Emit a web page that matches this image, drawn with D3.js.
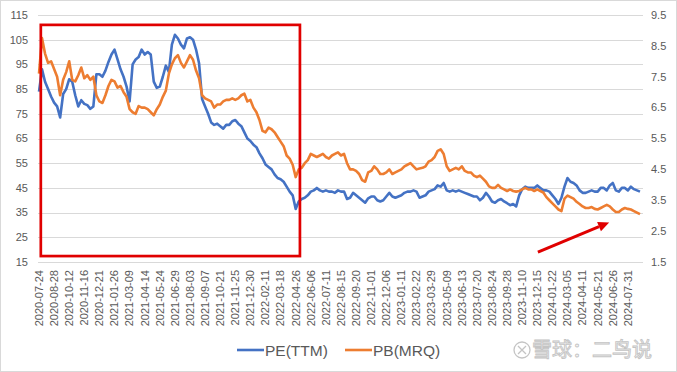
<!DOCTYPE html>
<html>
<head>
<meta charset="utf-8">
<style>
  body { margin: 0; background: #fff; }
  svg text { font-family: "Liberation Sans", Arial, sans-serif; }
</style>
</head>
<body>
<div id="graphic"></div>
<script src="https://d3js.org/d3.v7.min.js" charset="utf-8"></script>
<script>
// date labels shown on the x axis, one every 25 trading days
var dateLabels = ["2020-07-24","2020-08-28","2020-10-12","2020-11-16","2020-12-21","2021-01-26","2021-03-09","2021-04-14",
  "2021-05-24","2021-06-29","2021-08-03","2021-09-07","2021-10-21","2021-11-25","2021-12-30","2022-02-11","2022-03-18",
  "2022-04-26","2022-06-06","2022-07-11","2022-08-15","2022-09-20","2022-11-01","2022-12-06","2023-01-11","2023-02-22",
  "2023-03-29","2023-05-09","2023-06-13","2023-07-20","2023-08-24","2023-09-28","2023-11-10","2023-12-15","2024-01-22",
  "2024-03-05","2024-04-11","2024-05-21","2024-06-26","2024-07-31"];
var labelStep = 25;   // trading days between labels
var dataStep = 5;     // trading days between the points below
var totalDays = 1000;

// PE(TTM), left axis, one value every 5 trading days
var pe = [84,93,88,85,82,79.5,78,73.5,83,85, 89,88,82.5,78,80.5,79,78.5,77,78,91,
  91,90,92.5,96,99,101,97,93,90,86, 80,95,97,98,101,99,100,99,88,85.5,
  86,90,94.5,92,103,107,105.5,103,101.5,105.5, 106,105,101,95.5,81,78,75,71.5,70.5,71,
  70,69,70.5,70.5,72,72.5,71,70,67.5,65, 64,62.5,61.5,59,57,54.5,53.5,52.5,50.5,49,
  48.5,47.5,45.5,43.5,42,36.5,39.5,40.5,41,42, 43.5,44,45,44,43.5,44,43.5,43.5,43,44,
  43.5,43.5,40.5,41,43,42,41,40,39,40.8, 41.5,41.5,40,39.5,40,41.5,43,41.5,41,41.5,
  42,43,43.5,43.5,44,43.5,41,41.5,42,43.5, 44,44.5,46,45.5,47,44,43.5,44,43.5,44,
  43.5,43,42.5,42,41.5,41.5,40,41,43,41.5, 39.5,39,40,40.5,39.5,38.8,38,38.5,37.5,42,
  44.5,45.5,45,45,45,46,45,44,44,43.5, 42,40.5,38.5,41,45.5,49,47.5,47,46,44,
  43,43,43.5,44,43.5,43.5,45,45,44,46, 47,44,43.5,45,45,44,45.5,44.5,44,43.5];

// PB(MRQ), right axis
var pb = [7.6,8.75,8.25,7.95,8.0,7.75,7.5,6.9,7.4,7.65, 8.0,7.4,7.35,7.55,7.8,7.45,7.55,7.4,7.5,6.9,
  6.7,6.65,6.9,7.2,7.4,7.35,7.15,7.2,7.0,6.85, 6.45,6.35,6.3,6.55,6.5,6.5,6.45,6.35,6.25,6.45,
  6.6,6.85,7.05,7.6,7.9,8.1,8.2,7.95,7.8,8.0, 8.2,8.05,7.7,7.45,6.9,6.8,6.75,6.7,6.5,6.6,
  6.6,6.7,6.75,6.75,6.8,6.75,6.8,6.9,6.95,6.7, 6.75,6.5,6.35,6.1,5.75,5.7,5.85,5.8,5.7,5.55,
  5.4,5.25,4.95,4.85,4.65,4.25,4.5,4.55,4.7,4.8, 5.0,4.95,4.9,4.95,5.0,4.9,4.85,4.95,5.0,5.05,
  4.95,5.0,4.7,4.5,4.5,4.45,4.35,4.15,4.1,4.4, 4.45,4.6,4.5,4.35,4.35,4.4,4.5,4.35,4.4,4.45,
  4.5,4.6,4.65,4.7,4.6,4.5,4.53,4.55,4.6,4.75, 4.8,4.9,5.1,5.15,5.0,4.6,4.45,4.5,4.55,4.5,
  4.6,4.45,4.4,4.4,4.3,4.25,4.3,4.2,4.1,3.95, 3.9,3.9,4.0,3.9,3.85,3.8,3.85,3.8,3.78,3.8,
  3.85,3.9,3.85,3.85,3.8,3.85,3.8,3.75,3.6,3.5, 3.4,3.3,3.2,3.15,3.55,3.65,3.6,3.55,3.45,3.38,
  3.3,3.25,3.25,3.28,3.22,3.2,3.25,3.3,3.35,3.3, 3.2,3.12,3.12,3.2,3.25,3.22,3.2,3.15,3.1,3.05];

var leftTicks = [15,25,35,45,55,65,75,85,95,105,115];
var rightTicks = [1.5,2.5,3.5,4.5,5.5,6.5,7.5,8.5,9.5];
var seriesNames = ["PE(TTM)", "PB(MRQ)"];
var colors = ["#4472c4", "#ed7d31"];

// annotations: red box over the first period (trading days, PE units) and red arrow
var boxDays = [3, 432], boxPE = [17.4, 111];
var arrowFrom = [826, 19], arrowTo = [944, 31];

var W = 677, H = 372;
var margin = { top: 15, right: 34, bottom: 110, left: 39 };

var svg = d3.select("#graphic").append("svg")
    .attr("width", W)
    .attr("height", H);

svg.append("rect")
    .attr("x", 0.5).attr("y", 0.5)
    .attr("width", W - 1).attr("height", H - 1)
    .attr("fill", "#fff")
    .attr("stroke", "#d9d9d9");

var x = d3.scaleLinear().domain([0, totalDays]).range([margin.left, W - margin.right]);
var yL = d3.scaleLinear().domain([15, 115]).range([H - margin.bottom, margin.top]);
var yR = d3.scaleLinear().domain([1.5, 9.5]).range([H - margin.bottom, margin.top]);

// gridlines from the left axis
svg.append("g").selectAll("line")
    .data(leftTicks)
    .enter().append("line")
    .attr("x1", margin.left - 1)
    .attr("x2", W - margin.right)
    .attr("y1", function (d) { return Math.round(yL(d)) + 0.5; })
    .attr("y2", function (d) { return Math.round(yL(d)) + 0.5; })
    .attr("stroke", "#d9d9d9")
    .attr("stroke-width", 1);

// left axis labels
svg.append("g").selectAll("text")
    .data(leftTicks)
    .enter().append("text")
    .attr("x", 28)
    .attr("y", function (d) { return yL(d); })
    .attr("dy", "0.35em")
    .attr("text-anchor", "end")
    .style("font-size", "11px")
    .attr("fill", "#595959")
    .text(function (d) { return d; });

// right axis labels
svg.append("g").selectAll("text")
    .data(rightTicks)
    .enter().append("text")
    .attr("x", 651)
    .attr("y", function (d) { return yR(d); })
    .attr("dy", "0.35em")
    .style("font-size", "11px")
    .attr("fill", "#595959")
    .text(function (d) { return d.toFixed(1); });

// rotated date labels
svg.append("g").selectAll("text")
    .data(dateLabels)
    .enter().append("text")
    .attr("transform", function (d, i) {
        return "translate(" + x(i * labelStep) + "," + (H - margin.bottom + 8) + ") rotate(-90)";
    })
    .attr("dy", "0.35em")
    .attr("text-anchor", "end")
    .style("font-size", "11px")
    .attr("fill", "#595959")
    .text(function (d) { return d; });

// the two lines
var linePE = d3.line()
    .x(function (d, i) { return x(i * dataStep); })
    .y(function (d) { return yL(d); });
var linePB = d3.line()
    .x(function (d, i) { return x(i * dataStep); })
    .y(function (d) { return yR(d); });

svg.append("path")
    .datum(pe)
    .attr("d", linePE)
    .attr("fill", "none")
    .attr("stroke", colors[0])
    .attr("stroke-width", 2.6)
    .attr("stroke-linejoin", "round");

svg.append("path")
    .datum(pb)
    .attr("d", linePB)
    .attr("fill", "none")
    .attr("stroke", colors[1])
    .attr("stroke-width", 2.6)
    .attr("stroke-linejoin", "round");

// red box
svg.append("rect")
    .attr("x", x(boxDays[0]))
    .attr("y", yL(boxPE[1]))
    .attr("width", x(boxDays[1]) - x(boxDays[0]))
    .attr("height", yL(boxPE[0]) - yL(boxPE[1]))
    .attr("fill", "none")
    .attr("stroke", "#e00000")
    .attr("stroke-width", 2.7);

// red arrow
var ax1 = x(arrowFrom[0]), ay1 = yL(arrowFrom[1]);
var ax2 = x(arrowTo[0]), ay2 = yL(arrowTo[1]);
var ang = Math.atan2(ay2 - ay1, ax2 - ax1);
var headLen = 11, headW = 5;
var bx = ax2 - headLen * Math.cos(ang), by = ay2 - headLen * Math.sin(ang);
svg.append("line")
    .attr("x1", ax1).attr("y1", ay1)
    .attr("x2", bx).attr("y2", by)
    .attr("stroke", "#e00000")
    .attr("stroke-width", 3);
svg.append("path")
    .attr("d", "M" + ax2 + "," + ay2 +
        "L" + (bx + headW * Math.sin(ang)) + "," + (by - headW * Math.cos(ang)) +
        "L" + (bx - headW * Math.sin(ang)) + "," + (by + headW * Math.cos(ang)) + "Z")
    .attr("fill", "#e00000");

// legend
var legend = svg.append("g").selectAll("g")
    .data(seriesNames)
    .enter().append("g")
    .attr("transform", function (d, i) { return "translate(" + (i === 0 ? 237 : 345) + ",350)"; });
legend.append("line")
    .attr("x1", 0).attr("x2", 27)
    .attr("stroke", function (d, i) { return colors[i]; })
    .attr("stroke-width", 2.6);
legend.append("text")
    .attr("x", 28)
    .attr("dy", "0.36em")
    .style("font-size", "15.5px")
    .attr("fill", "#595959")
    .text(function (d) { return d; });

// watermark
var wm = svg.append("g").attr("transform", "translate(522,350)");
wm.append("circle").attr("r", 8).attr("fill", "none").attr("stroke", "#c4c4c4").attr("stroke-width", 1.3);
wm.append("path").attr("d", "M-4,-4L4,4M4,-4L-4,4").attr("stroke", "#c4c4c4").attr("stroke-width", 1.3);
wm.append("text")
    .attr("x", 10)
    .attr("dy", "0.36em")
    .style("font-family", '"Noto Sans CJK SC", sans-serif')
    .style("font-size", "20px")
    .attr("fill", "#f7f7f7")
    .attr("stroke", "#c4c4c4")
    .attr("stroke-width", 0.9)
    .text("雪球：二鸟说");
</script>
</body>
</html>
